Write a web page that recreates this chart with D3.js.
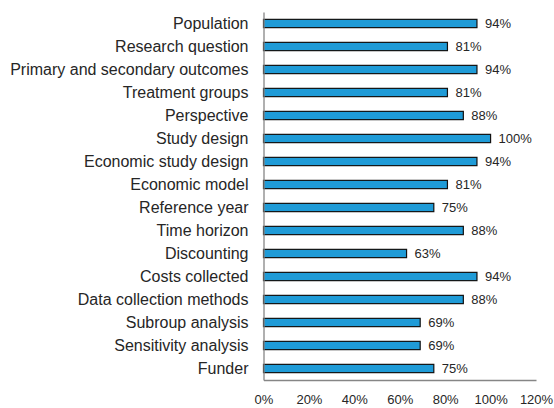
<!DOCTYPE html>
<html>
<head>
<meta charset="utf-8">
<script src="https://cdn.jsdelivr.net/npm/d3@7"></script>
<style>
  body { margin: 0; background: #fff; }
  .chart text { font-family: "Liberation Sans", Arial, sans-serif; fill: #262626; }
</style>
</head>
<body>
<div class="chart"></div>
<script>
var categories = [
  'Population', 'Research question', 'Primary and secondary outcomes',
  'Treatment groups', 'Perspective', 'Study design', 'Economic study design',
  'Economic model', 'Reference year', 'Time horizon', 'Discounting',
  'Costs collected', 'Data collection methods', 'Subroup analysis',
  'Sensitivity analysis', 'Funder'
];
var values = [94, 81, 94, 81, 88, 100, 94, 81, 75, 88, 63, 94, 88, 69, 69, 75];
var xTicks = [0, 20, 40, 60, 80, 100, 120];

var svgWidth = 554;
var svgHeight = 408;

var margin = { top: 12, right: 18, bottom: 28, left: 263.5 };
var width = svgWidth - margin.left - margin.right;
var height = svgHeight - margin.top - margin.bottom;

var svg = d3.select('.chart')
  .append('svg')
  .attr('width', svgWidth)
  .attr('height', svgHeight);

var chartGroup = svg.append('g')
  .attr('transform', `translate(${margin.left}, ${margin.top})`);

var xScale = d3.scaleLinear()
  .domain([0, 120])
  .range([0, width]);

var yScale = d3.scaleBand()
  .domain(categories)
  .range([0, height])
  .paddingInner(0.64)
  .paddingOuter(0.32);

// bars
chartGroup.selectAll('rect.bar')
  .data(values)
  .enter()
  .append('rect')
  .attr('class', 'bar')
  .attr('x', 0)
  .attr('y', (d, i) => yScale(categories[i]))
  .attr('width', d => xScale(d))
  .attr('height', yScale.bandwidth())
  .attr('fill', '#1f9bd7')
  .attr('stroke', '#111')
  .attr('stroke-width', 1.2);

// value labels
chartGroup.selectAll('text.value')
  .data(values)
  .enter()
  .append('text')
  .attr('class', 'value')
  .attr('x', d => xScale(d) + 8)
  .attr('y', (d, i) => yScale(categories[i]) + yScale.bandwidth() / 2)
  .attr('dy', '0.35em')
  .style('font-size', '13px')
  .text(d => d + '%');

// y axis
var leftAxis = d3.axisLeft(yScale).tickSize(0).tickPadding(15);
var yAxis = chartGroup.append('g').call(leftAxis);
yAxis.select('.domain').attr('stroke', '#868686').attr('stroke-width', 1.3);
yAxis.selectAll('text').style('font-size', '16px').attr('fill', '#262626');

// x axis
var bottomAxis = d3.axisBottom(xScale)
  .tickValues(xTicks)
  .tickSize(0)
  .tickPadding(15)
  .tickFormat(d => d + '%');
var xAxis = chartGroup.append('g')
  .attr('transform', `translate(0, ${height})`)
  .call(bottomAxis);
xAxis.select('.domain').attr('stroke', '#868686').attr('stroke-width', 1.3);
xAxis.selectAll('text').style('font-size', '13px').attr('fill', '#262626');
</script>
</body>
</html>
